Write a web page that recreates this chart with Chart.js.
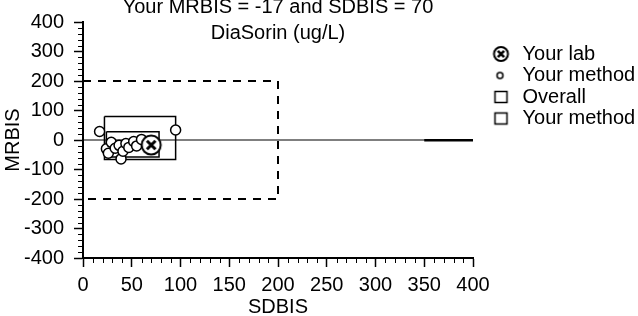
<!DOCTYPE html>
<html>
<head>
<meta charset="utf-8">
<script src="https://cdn.jsdelivr.net/npm/chart.js@4.4.0/dist/chart.umd.min.js"></script>
<style>
  body { margin: 0; background: #fff; }
</style>
</head>
<body>
<canvas id="myChart" width="638" height="316"></canvas>
<script>
// values
const titleLines = ["Your MRBIS = -17 and SDBIS = 70", "DiaSorin (ug/L)"];
const legendNames = ["Your lab", "Your method", "Overall", "Your method"];
const xTicks = [0, 50, 100, 150, 200, 250, 300, 350, 400];
const yTicks = [-400, -300, -200, -100, 0, 100, 200, 300, 400];

const labX = [70];
const labY = [-17];
const methodX = [17, 95, 39, 24, 26, 29, 33, 37, 41, 44, 47, 52, 55, 60];
const methodY = [29, 34, -64, -30, -45, -8, -28, -18, -38, -12, -25, -5, -20, 2];
const overallBoxX = [22, 95];
const overallBoxY = [-66, 80];
const methodBoxX = [24, 78];
const methodBoxY = [-58, 28];
const limitX = [0, 200, 200, 0];
const limitY = [200, 200, -200, -200];
const zeroX = [0, 400];
const zeroY = [0, 0];
const tailX = [350, 400];
const tailY = [-1, -1];

const FONT = "'Liberation Sans', Arial, sans-serif";

function points(xs, ys) {
    return xs.map((x, i) => ({ x: x, y: ys[i] }));
}
// closed rectangle from [x1,x2] and [y1,y2]
function box(xs, ys) {
    return points([xs[0], xs[1], xs[1], xs[0], xs[0]], [ys[1], ys[1], ys[0], ys[0], ys[1]]);
}

function makeIcon(w, h, draw) {
    const c = document.createElement("canvas");
    c.width = w;
    c.height = h;
    const ctx = c.getContext("2d");
    ctx.strokeStyle = "#000";
    ctx.fillStyle = "#fff";
    draw(ctx);
    return c;
}
function drawLab(ctx, cx, cy, r, lw) {
    ctx.lineWidth = 2;
    ctx.beginPath();
    ctx.arc(cx, cy, r, 0, Math.PI * 2);
    ctx.fill();
    ctx.stroke();
    ctx.lineWidth = lw;
    const d = r * 0.45;
    ctx.beginPath();
    ctx.moveTo(cx - d, cy - d); ctx.lineTo(cx + d, cy + d);
    ctx.moveTo(cx + d, cy - d); ctx.lineTo(cx - d, cy + d);
    ctx.stroke();
}

const labPoint = makeIcon(24, 24, (ctx) => drawLab(ctx, 12, 12, 9.5, 3));

// legend icons, symbol sits a bit right of the icon center
const legendIcons = [
    makeIcon(40, 20, (ctx) => drawLab(ctx, 27.5, 10, 7, 2.5)),
    makeIcon(40, 20, (ctx) => { ctx.lineWidth = 1.5; ctx.beginPath(); ctx.arc(26.5, 10, 3, 0, Math.PI * 2); ctx.stroke(); }),
    makeIcon(40, 20, (ctx) => { ctx.lineWidth = 1.5; ctx.strokeRect(21.5, 4.5, 12, 11); }),
    makeIcon(40, 20, (ctx) => { ctx.lineWidth = 1.5; ctx.strokeRect(21.5, 4.5, 12, 11); })
];

const minorTicks = {
    id: "minorTicks",
    afterDraw(chart) {
        const ctx = chart.ctx;
        const xs = chart.scales.x;
        const ys = chart.scales.y;
        ctx.save();
        ctx.strokeStyle = "#000";
        ctx.lineWidth = 1;
        ctx.beginPath();
        for (let v = 10; v < 400; v += 10) {
            if (v % 50 === 0) continue;
            const px = Math.round(xs.getPixelForValue(v)) + 0.5;
            ctx.moveTo(px, ys.bottom);
            ctx.lineTo(px, ys.bottom + 5);
        }
        for (let v = -380; v < 400; v += 20) {
            if (v % 100 === 0) continue;
            const py = Math.round(ys.getPixelForValue(v)) + 0.5;
            ctx.moveTo(xs.left - 5, py);
            ctx.lineTo(xs.left, py);
        }
        ctx.stroke();
        ctx.restore();
    }
};

const lineSet = (data, extra) => Object.assign({
    type: "line",
    data: data,
    borderColor: "#000",
    borderWidth: 1.5,
    pointRadius: 0,
    fill: false,
    tension: 0
}, extra);

new Chart("myChart", {
    type: "scatter",
    data: {
        datasets: [
            {
                label: "Your lab",
                data: points(labX, labY),
                pointStyle: labPoint,
                pointRadius: 10
            },
            {
                label: "Your method",
                data: points(methodX, methodY),
                pointStyle: "circle",
                pointRadius: 5,
                backgroundColor: "#fff",
                borderColor: "#000",
                borderWidth: 1.5
            },
            lineSet(box(methodBoxX, methodBoxY), { label: "Your method box" }),
            lineSet(box(overallBoxX, overallBoxY), { label: "Overall" }),
            lineSet(points(limitX, limitY), { label: "limits", borderWidth: 2, borderDash: [8, 7] }),
            lineSet(points(zeroX, zeroY), { label: "zero", borderWidth: 1.2 }),
            lineSet(points(tailX, tailY), { label: "tail", borderWidth: 2.5 })
        ]
    },
    options: {
        responsive: false,
        animation: false,
        layout: { padding: 0 },
        plugins: {
            tooltip: { enabled: false },
            title: {
                display: true,
                text: titleLines,
                fullSize: false,
                color: "#000",
                font: { family: FONT, size: 20, weight: "normal", lineHeight: 1.3 },
                padding: { top: -12, bottom: -24 }
            },
            legend: {
                position: "right",
                align: "start",
                maxWidth: 165,
                title: { display: true, text: "", font: { size: 10 }, padding: { top: 30.5, bottom: 0 } },
                labels: {
                    color: "#000",
                    font: { family: FONT, size: 20 },
                    padding: 1.5,
                    usePointStyle: true,
                    pointStyleWidth: 38,
                    generateLabels: () => legendNames.map((name, i) => ({
                        text: name,
                        pointStyle: legendIcons[i],
                        fillStyle: "transparent",
                        strokeStyle: "transparent",
                        lineWidth: 0,
                        hidden: false,
                        fontColor: "#000",
                        datasetIndex: i
                    }))
                }
            }
        },
        scales: {
            x: {
                type: "linear",
                min: 0,
                max: 400,
                afterBuildTicks: (scale) => { scale.ticks = xTicks.map((v) => ({ value: v })); },
                afterFit: (scale) => { scale.height = 58; },
                grid: { display: true, drawOnChartArea: false, drawTicks: true, tickLength: 9, color: "#000", tickWidth: 1.5 },
                border: { display: true, color: "#000", width: 2 },
                ticks: { color: "#000", padding: 6, maxRotation: 0, font: { family: FONT, size: 20 } },
                title: { display: true, text: "SDBIS", color: "#000", padding: { top: 0, bottom: -3 }, font: { family: FONT, size: 20 } }
            },
            y: {
                type: "linear",
                min: -400,
                max: 400,
                afterBuildTicks: (scale) => { scale.ticks = yTicks.map((v) => ({ value: v })); },
                afterFit: (scale) => { scale.width = 83; },
                grid: { display: true, drawOnChartArea: false, drawTicks: true, tickLength: 9, color: "#000", tickWidth: 1.5 },
                border: { display: true, color: "#000", width: 2 },
                ticks: { color: "#000", padding: 10, font: { family: FONT, size: 20 } },
                title: { display: true, text: "MRBIS", color: "#000", padding: { top: 1, bottom: 0 }, font: { family: FONT, size: 20 } }
            }
        }
    },
    plugins: [minorTicks]
});
</script>
</body>
</html>
